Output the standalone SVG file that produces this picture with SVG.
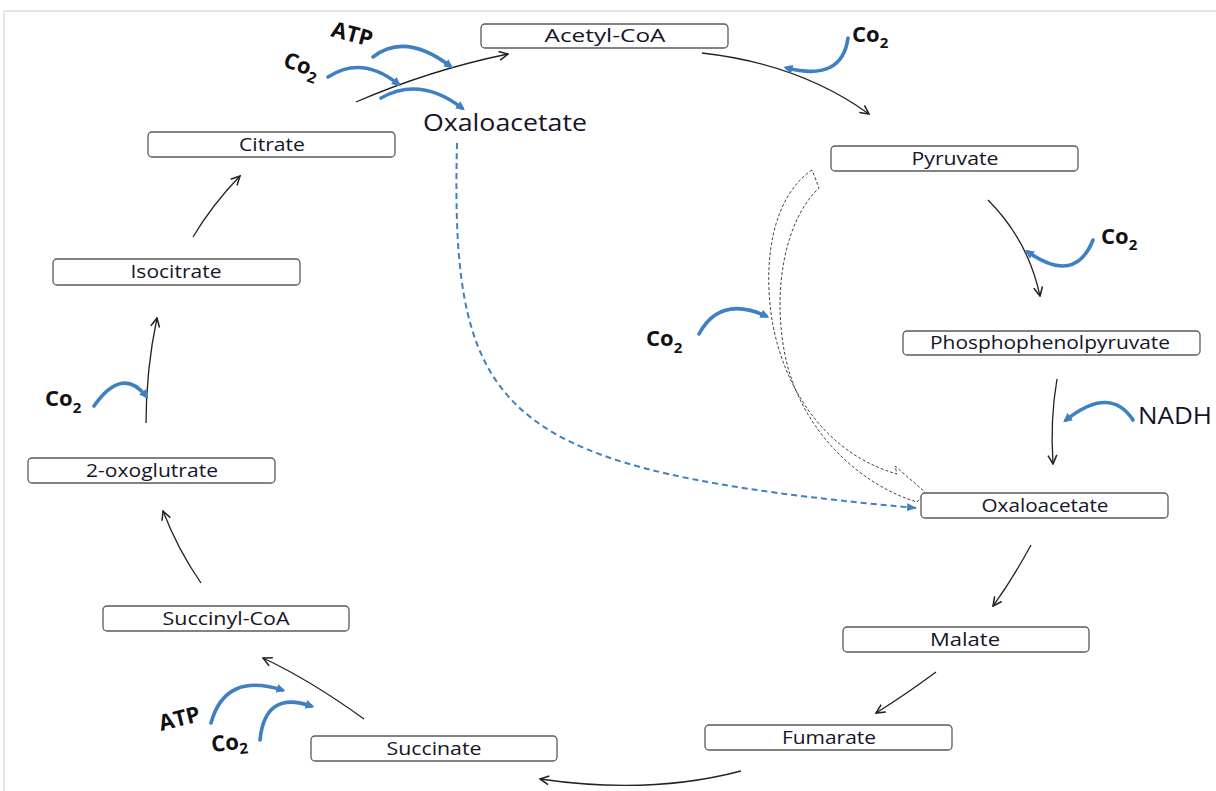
<svg xmlns="http://www.w3.org/2000/svg" width="1216" height="791" viewBox="0 0 1216 791">
  <defs>
    <style>
      .box { fill: #ffffff; stroke: #5a5a5a; stroke-width: 1.3; }
      .lbl { font-family: "Open Sans", "Liberation Sans", sans-serif; font-size: 18px; fill: #15152a; text-anchor: middle; }
      .big { font-family: "Open Sans", "Liberation Sans", sans-serif; font-size: 23px; fill: #15152a; }
      .co { font-family: "Open Sans", "Liberation Sans", sans-serif; font-size: 22px; font-weight: bold; fill: #111111; }
      .sub { font-size: 15px; }
      .step { fill: none; stroke: #222222; stroke-width: 1.3; marker-end: url(#open); }
      .cof { fill: none; stroke: #3f80c2; stroke-width: 3.6; stroke-linecap: round; marker-end: url(#blue); }
      .frame { stroke: #dcdcdc; stroke-width: 1.5; }
    </style>
    <marker id="open" viewBox="0 0 10 10" refX="9" refY="5" markerWidth="11" markerHeight="11" markerUnits="userSpaceOnUse" orient="auto">
      <path d="M1,1 L9,5 L1,9" fill="none" stroke="#222222" stroke-width="1.4"/>
    </marker>
    <marker id="blue" viewBox="0 0 10 10" refX="6" refY="5" markerWidth="9" markerHeight="9" markerUnits="userSpaceOnUse" orient="auto">
      <path d="M0,0 L10,5 L0,10 Z" fill="#3f80c2"/>
    </marker>
    <marker id="bluedash" viewBox="0 0 10 10" refX="9" refY="5" markerWidth="10" markerHeight="10" markerUnits="userSpaceOnUse" orient="auto">
      <path d="M0,1 L10,5 L0,9 Z" fill="#3f80c2"/>
    </marker>
  </defs>

  <rect width="1216" height="791" fill="#ffffff"/>
  <line class="frame" x1="4" y1="11" x2="1216" y2="11"/>
  <line class="frame" x1="4" y1="11" x2="4" y2="791"/>

  <!-- reaction steps and cofactor arcs -->
  <g id="connectors">
    <path class="step" d="M356,102 Q430,70 508,54"/>
    <path class="step" d="M702,53 Q800,64 869,114"/>
    <path class="step" d="M988,200 Q1028,240 1040,296"/>
    <path class="step" d="M1057,379 Q1050,420 1053,464"/>
    <path class="step" d="M1031,545 Q1012,580 993,606"/>
    <path class="step" d="M936,672 Q905,695 876,713"/>
    <path class="step" d="M741,771 Q650,795 540,779"/>
    <path class="step" d="M364,719 Q310,680 263,658"/>
    <path class="step" d="M201,583 Q178,550 163,511"/>
    <path class="step" d="M146,423 Q146,370 157,318"/>
    <path class="step" d="M193,237 Q212,205 240,176"/>

    <!-- dashed transfer of oxaloacetate -->
    <path d="M457,143 C450,420 500,470 916,508" fill="none" stroke="#3f80c2" stroke-width="2" stroke-dasharray="6,4" marker-end="url(#bluedash)"/>

    <!-- hollow dashed block arrow from pyruvate -->
    <path d="M812,170 C775,195 762,255 772,320 C785,395 830,455 897,474 L895,466 L925,492 L917,502 C860,485 800,430 785,355 C772,290 785,220 819,188 Z" fill="none" stroke="#444444" stroke-width="1" stroke-dasharray="3,2"/>

    <!-- cofactor arcs -->
    <path class="cof" d="M373,57 Q405,32 450,66"/>
    <path class="cof" d="M328,77 Q362,55 398,84"/>
    <path class="cof" d="M381,98 Q420,76 462,108"/>
    <path class="cof" d="M848,38 Q842,82 787,68"/>
    <path class="cof" d="M1093,240 Q1075,285 1028,252"/>
    <path class="cof" d="M1133,420 Q1110,385 1066,420"/>
    <path class="cof" d="M94,406 Q122,366 146,396"/>
    <path class="cof" d="M699,334 Q720,295 766,316"/>
    <path class="cof" d="M211,723 Q225,672 282,690"/>
    <path class="cof" d="M260,740 Q265,690 311,706"/>
  </g>

  <!-- cofactor labels -->
  <g id="cofactors">
    <text class="co" transform="translate(330,36) rotate(15)">ATP</text>
    <text class="co" transform="translate(282,66) rotate(20)">Co<tspan class="sub" dy="6">2</tspan></text>
    <text class="co" x="852" y="42">Co<tspan class="sub" dy="6">2</tspan></text>
    <text class="co" x="1101" y="244">Co<tspan class="sub" dy="6">2</tspan></text>
    <text class="co" x="646" y="346">Co<tspan class="sub" dy="7">2</tspan></text>
    <text class="co" x="45" y="406">Co<tspan class="sub" dy="7">2</tspan></text>
    <text class="co" transform="translate(161,731) rotate(-14)">ATP</text>
    <text class="co" transform="translate(212,752) rotate(-6)">Co<tspan class="sub" dy="5">2</tspan></text>
    <text class="big" x="1138" y="424" font-size="24" textLength="74" lengthAdjust="spacingAndGlyphs">NADH</text>
    <text class="big" x="423" y="131" textLength="164" lengthAdjust="spacingAndGlyphs">Oxaloacetate</text>
  </g>

  <!-- metabolite nodes -->
  <g id="acetyl-coa">
    <rect class="box" x="481" y="24" width="247" height="24" rx="4"/>
    <text class="lbl" x="605" y="42" textLength="121" lengthAdjust="spacingAndGlyphs">Acetyl-CoA</text>
  </g>
  <g id="pyruvate">
    <rect class="box" x="831" y="146" width="247" height="25" rx="4"/>
    <text class="lbl" x="955" y="165" textLength="87" lengthAdjust="spacingAndGlyphs">Pyruvate</text>
  </g>
  <g id="phosphophenolpyruvate">
    <rect class="box" x="903" y="331" width="297" height="24" rx="4"/>
    <text class="lbl" x="1050" y="349" textLength="240" lengthAdjust="spacingAndGlyphs">Phosphophenolpyruvate</text>
  </g>
  <g id="oxaloacetate">
    <rect class="box" x="921" y="493" width="247" height="25" rx="4"/>
    <text class="lbl" x="1045" y="512" textLength="127" lengthAdjust="spacingAndGlyphs">Oxaloacetate</text>
  </g>
  <g id="malate">
    <rect class="box" x="843" y="627" width="246" height="25" rx="4"/>
    <text class="lbl" x="965" y="646" textLength="70" lengthAdjust="spacingAndGlyphs">Malate</text>
  </g>
  <g id="fumarate">
    <rect class="box" x="705" y="725" width="247" height="25" rx="4"/>
    <text class="lbl" x="829" y="744" textLength="94" lengthAdjust="spacingAndGlyphs">Fumarate</text>
  </g>
  <g id="succinate">
    <rect class="box" x="311" y="736" width="246" height="25" rx="4"/>
    <text class="lbl" x="434" y="755" textLength="95" lengthAdjust="spacingAndGlyphs">Succinate</text>
  </g>
  <g id="succinyl-coa">
    <rect class="box" x="103" y="606" width="246" height="25" rx="4"/>
    <text class="lbl" x="226" y="625" textLength="127" lengthAdjust="spacingAndGlyphs">Succinyl-CoA</text>
  </g>
  <g id="oxoglutrate">
    <rect class="box" x="28" y="458" width="247" height="25" rx="4"/>
    <text class="lbl" x="152" y="477" textLength="132" lengthAdjust="spacingAndGlyphs">2-oxoglutrate</text>
  </g>
  <g id="isocitrate">
    <rect class="box" x="53" y="259" width="247" height="26" rx="4"/>
    <text class="lbl" x="176" y="278" textLength="91" lengthAdjust="spacingAndGlyphs">Isocitrate</text>
  </g>
  <g id="citrate">
    <rect class="box" x="148" y="132" width="247" height="25" rx="4"/>
    <text class="lbl" x="272" y="151" textLength="66" lengthAdjust="spacingAndGlyphs">Citrate</text>
  </g>
</svg>
